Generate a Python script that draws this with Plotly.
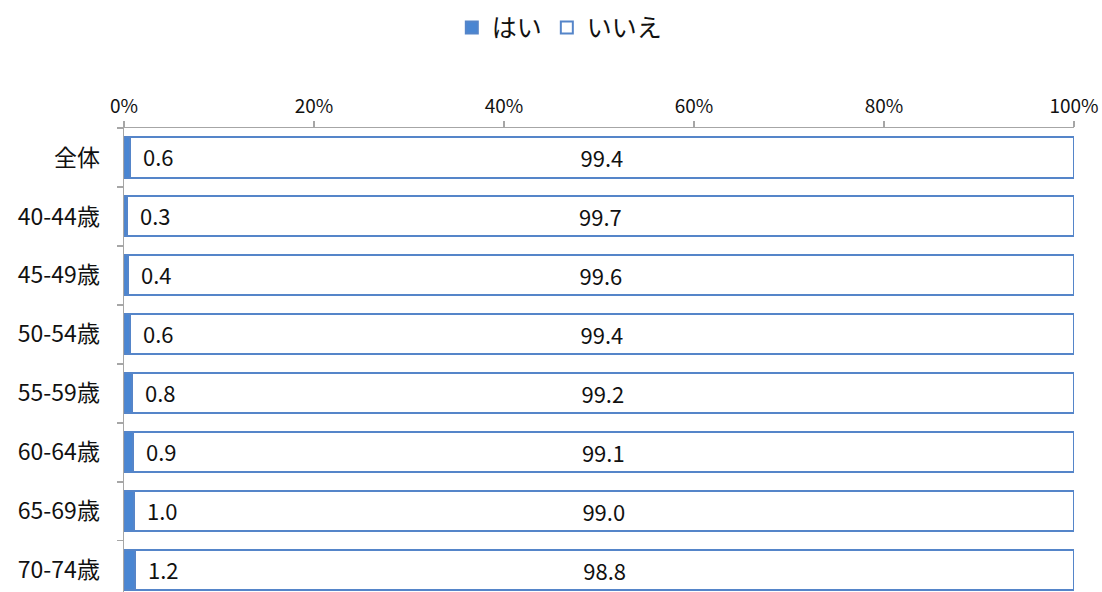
import plotly.graph_objects as go

categories = ["全体", "40-44歳", "45-49歳", "50-54歳", "55-59歳", "60-64歳", "65-69歳", "70-74歳"]
hai = [0.6, 0.3, 0.4, 0.6, 0.8, 0.9, 1.0, 1.2]
iie = [99.4, 99.7, 99.6, 99.4, 99.2, 99.1, 99.0, 98.8]
x_ticks = [0, 20, 40, 60, 80, 100]
x_tick_labels = ["0%", "20%", "40%", "60%", "80%", "100%"]

FONT = "Noto Sans CJK JP"
BLUE_FILL = "#4A86D2"
BLUE_LINE = "#5585C9"
TXT = "#111111"

fig = go.Figure()
fig.add_trace(go.Bar(
    y=categories, x=hai, name="はい", orientation="h",
    marker=dict(color=BLUE_FILL, line=dict(color=BLUE_LINE, width=2)),
))
fig.add_trace(go.Bar(
    y=categories, x=iie, name="いいえ", orientation="h",
    marker=dict(color="white", line=dict(color=BLUE_LINE, width=2)),
    text=[f"{v:.1f}" for v in iie], textposition="inside",
    insidetextanchor="middle",
    textfont=dict(family=FONT, size=22, color=TXT),
))

for c, v in zip(categories, hai):
    fig.add_annotation(
        x=v, y=c, xref="x", yref="y", text=f"{v:.1f}", showarrow=False,
        xanchor="left", xshift=11, yshift=1,
        font=dict(family=FONT, size=22, color=TXT),
    )

n = len(categories)
fig.update_layout(
    width=1102, height=592,
    barmode="stack", bargap=0.32,
    plot_bgcolor="white", paper_bgcolor="white",
    margin=dict(l=124, r=28, t=128, b=0),
    font=dict(family=FONT, size=19, color=TXT),
    legend=dict(
        orientation="h", xref="container", yref="container",
        x=0.508, y=0.953, xanchor="center", yanchor="middle",
        font=dict(family=FONT, size=25, color=TXT),
        itemwidth=30, traceorder="normal",
    ),
    xaxis=dict(
        side="top", range=[0, 100], tickvals=x_ticks, ticktext=x_tick_labels,
        showgrid=False, zeroline=False, showline=True, linecolor="#A6A6A6", linewidth=1.5,
        ticks="outside", ticklen=6, tickcolor="#A6A6A6", tickwidth=1.5,
        tickfont=dict(family=FONT, size=19, color=TXT),
        fixedrange=True,
    ),
    yaxis=dict(
        type="category", categoryorder="array", categoryarray=categories,
        range=[n - 0.63, -0.5],
        showgrid=False, zeroline=False, showline=True, linecolor="#A6A6A6", linewidth=1.5,
        ticks="outside", ticklen=6, tickcolor="#A6A6A6", tickwidth=1.5,
        tickson="boundaries", ticklabelstandoff=18,
        tickfont=dict(family=FONT, size=23, color=TXT),
        fixedrange=True,
    ),
)

fig.write_html(
    "out.html",
    config={"displayModeBar": False, "staticPlot": True},
    post_script="document.body.style.margin='0';document.body.style.overflow='hidden';",
)
